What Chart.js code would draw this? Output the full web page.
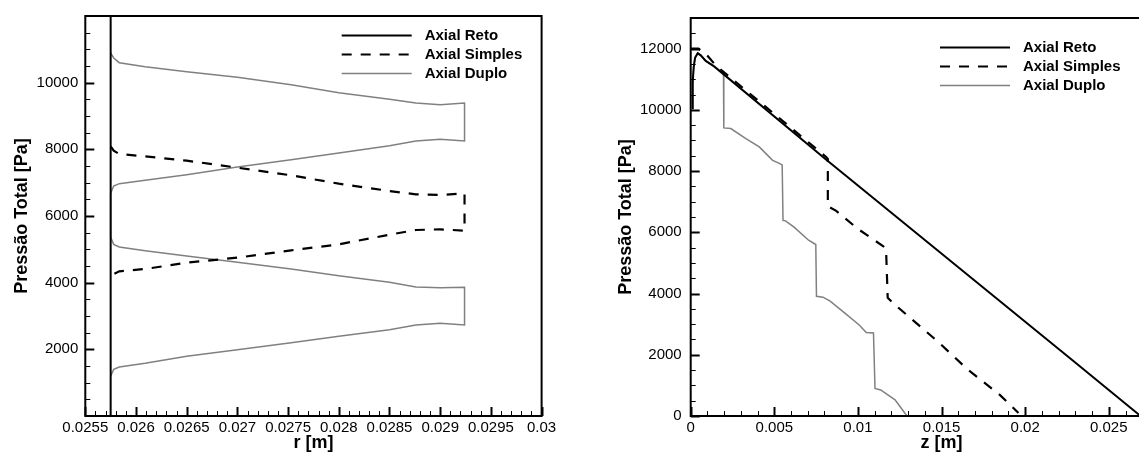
<!DOCTYPE html>
<html>
<head>
<meta charset="utf-8">
<script src="https://cdn.jsdelivr.net/npm/chart.js@4.4.1/dist/chart.umd.min.js"></script>
<style>
  html, body { margin: 0; padding: 0; background: #fff; overflow: hidden; width: 1139px; height: 456px; }
  #esq { position: absolute; left: 0; top: 0; }
  #dir { position: absolute; left: 570px; top: 0; }
</style>
</head>
<body>
<canvas id="esq" width="570" height="456"></canvas>
<canvas id="dir" width="640" height="456"></canvas>
<script>
  const series = ['Axial Reto', 'Axial Simples', 'Axial Duplo'];

  // ---- grafico da esquerda: pressao total x r ----
  const rReto = [0.02575, 0.02575];
  const pRetoR = [0, 12000];

  const rSimples = [0.02575, 0.02578, 0.025835, 0.02609, 0.0265, 0.027, 0.02753, 0.028, 0.0285, 0.02876, 0.029, 0.02924,
                    0.02924, 0.029, 0.02876, 0.0285, 0.028, 0.02753, 0.027, 0.0265, 0.02609, 0.025835, 0.02578, 0.02575];
  const pSimplesR = [8090, 7960, 7860, 7790, 7660, 7450, 7220, 6970, 6750, 6650, 6630, 6680,
                     5560, 5600, 5580, 5440, 5150, 4970, 4750, 4600, 4410, 4340, 4260, 4060];

  const rDuplo = [0.02575, 0.02578, 0.025835, 0.02609, 0.0265, 0.027, 0.02753, 0.028, 0.0285, 0.02876, 0.029, 0.02924,
                  0.02924, 0.029, 0.02876, 0.0285, 0.028, 0.02753, 0.027, 0.0265, 0.02609, 0.025835, 0.02578, 0.02575,
                  0.02575, 0.02578, 0.025835, 0.02609, 0.0265, 0.027, 0.02753, 0.028, 0.0285, 0.02876, 0.029, 0.02924,
                  0.02924, 0.029, 0.02876, 0.0285, 0.028, 0.02753, 0.027, 0.0265, 0.02609, 0.025835, 0.02578, 0.02575];
  const pDuploR = [10890, 10740, 10600, 10480, 10330, 10160, 9940, 9700, 9500, 9390, 9340, 9390,
                   8250, 8300, 8250, 8110, 7890, 7690, 7470, 7240, 7070, 6970, 6900, 6680,
                   5360, 5150, 5070, 4960, 4800, 4610, 4410, 4210, 4010, 3870, 3845, 3865,
                   2730, 2780, 2730, 2590, 2390, 2200, 1990, 1790, 1580, 1470, 1400, 1200];

  const rTicks = [0.0255, 0.026, 0.0265, 0.027, 0.0275, 0.028, 0.0285, 0.029, 0.0295, 0.03];
  const rTickLabels = ['0.0255', '0.026', '0.0265', '0.027', '0.0275', '0.028', '0.0285', '0.029', '0.0295', '0.03'];
  const pTicksEsq = [2000, 4000, 6000, 8000, 10000];
  const pLabelsEsq = ['2000', '4000', '6000', '8000', '10000'];

  // ---- grafico da direita: pressao total x z ----
  const zReto = [0.00008, 0.00012, 0.00018, 0.00026, 0.00042, 0.0006, 0.0009, 0.0014, 0.00809, 0.02292, 0.0269];
  const pRetoZ = [10050, 10900, 11400, 11700, 11850, 11780, 11600, 11420, 8380, 1780, 0];

  const zSimples = [0, 0.00046, 0.00095, 0.0015, 0.0081, 0.0082, 0.0082, 0.0087, 0.01, 0.0115, 0.01168, 0.01178,
                    0.0122, 0.0148, 0.0165, 0.0185, 0.0196];
  const pSimplesZ = [12000, 12000, 11800, 11450, 8460, 8400, 6850, 6700, 6110, 5550, 5470, 3860,
                     3640, 2420, 1550, 680, 100];

  const zDuplo = [0.00008, 0.00012, 0.00018, 0.00026, 0.00042, 0.0006, 0.0009, 0.0014, 0.00196, 0.00198,
                  0.0024, 0.0033, 0.0041, 0.0049, 0.0053, 0.00547, 0.00552, 0.00565, 0.00618, 0.00705, 0.00748,
                  0.00752, 0.00791, 0.00834, 0.0092, 0.01006, 0.0105, 0.01093, 0.01102, 0.01136, 0.01222, 0.01293];
  const pDuploZ = [10050, 10900, 11400, 11700, 11850, 11780, 11600, 11420, 11170, 9410,
                   9390, 9060, 8790, 8350, 8250, 8200, 6390, 6380, 6170, 5740, 5600,
                   3910, 3880, 3750, 3370, 2980, 2730, 2710, 900, 850, 530, 0];

  const zTicks = [0, 0.005, 0.01, 0.015, 0.02, 0.025, 0.03];
  const zTickLabels = ['0', '0.005', '0.01', '0.015', '0.02', '0.025', '0.03'];
  const pTicksDir = [0, 2000, 4000, 6000, 8000, 10000, 12000];
  const pLabelsDir = ['0', '2000', '4000', '6000', '8000', '10000', '12000'];

  const fonte = '"Liberation Sans", Arial, Helvetica, sans-serif';
  const estilos = [
    { borderColor: '#000', borderWidth: 2, borderDash: [] },
    { borderColor: '#000', borderWidth: 2.2, borderDash: [10, 9] },
    { borderColor: '#808080', borderWidth: 1.5, borderDash: [] }
  ];

  function pontos(xs, ys) {
    return xs.map((v, i) => ({ x: v, y: ys[i] }));
  }

  // moldura, marcas para dentro e legenda (estilo tecplot)
  const moldura = {
    id: 'moldura',
    afterDatasetsDraw(chart, args, opts) {
      const { ctx, chartArea: a } = chart;
      const sx = chart.scales.x, sy = chart.scales.y;
      ctx.save();
      ctx.strokeStyle = '#000';

      const marca = (scale, passo, horiz) => {
        const n = Math.round((scale.max - scale.min) / passo);
        const maiores = scale.ticks.map(t => t.value);
        for (let i = 0; i <= n; i++) {
          const v = scale.min + i * passo;
          const maior = maiores.some(m => Math.abs(m - v) < passo / 10);
          const len = maior ? 9 : 5;
          ctx.lineWidth = maior ? 2 : 1;
          const p = Math.round(scale.getPixelForValue(v)) + 0.5;
          ctx.beginPath();
          if (horiz) { ctx.moveTo(p, a.bottom); ctx.lineTo(p, a.bottom - len); }
          else { ctx.moveTo(a.left, p); ctx.lineTo(a.left + len, p); }
          ctx.stroke();
        }
      };
      marca(sx, opts.passoX, true);
      marca(sy, opts.passoY, false);

      ctx.lineWidth = 2;
      ctx.strokeRect(a.left, a.top, a.right - a.left, a.bottom - a.top);

      // legenda
      ctx.font = 'bold 15px ' + fonte;
      ctx.textBaseline = 'middle';
      ctx.textAlign = 'left';
      chart.data.datasets.forEach((ds, i) => {
        const x0 = a.left + opts.legX;
        const y0 = Math.round(a.top + opts.legY + i * 19) + 0.5;
        ctx.strokeStyle = ds.borderColor;
        ctx.lineWidth = ds.borderWidth;
        ctx.setLineDash(ds.borderDash || []);
        ctx.beginPath();
        ctx.moveTo(x0, y0);
        ctx.lineTo(x0 + 70, y0);
        ctx.stroke();
        ctx.setLineDash([]);
        ctx.fillStyle = '#000';
        ctx.fillText(ds.label, x0 + 83, y0);
      });
      ctx.restore();
    }
  };

  function criaGrafico(id, c) {
    return new Chart(document.getElementById(id), {
      type: 'line',
      data: {
        datasets: c.dados.map((d, i) => Object.assign({
          label: series[i],
          data: d,
          pointRadius: 0,
          fill: false,
          tension: 0
        }, estilos[i]))
      },
      options: {
        responsive: false,
        animation: false,
        layout: { padding: { left: 0, top: 12.7, right: c.padDir, bottom: 0 } },
        plugins: {
          legend: { display: false },
          tooltip: { enabled: false },
          moldura: { passoX: c.passoX, passoY: c.passoY, legX: c.legX, legY: c.legY }
        },
        scales: {
          x: {
            type: 'linear',
            min: c.xMin, max: c.xMax,
            afterBuildTicks: s => { s.ticks = c.xTicks.map(v => ({ value: v })); },
            afterFit: s => { s.height = 40; },
            grid: { display: false, drawTicks: false },
            border: { display: false },
            ticks: {
              autoSkip: false, maxRotation: 0, padding: 3, color: '#000',
              font: { family: fonte, size: 15 },
              callback: (v, i) => c.xLabels[i]
            },
            title: {
              display: true, text: c.xTitulo, color: '#000',
              font: { family: fonte, size: 18, weight: 'bold' },
              padding: { top: 0, bottom: 2 }
            }
          },
          y: {
            min: c.yMin, max: c.yMax,
            afterBuildTicks: s => { s.ticks = c.yTicks.map(v => ({ value: v })); },
            afterFit: s => { s.width = c.larguraY; },
            grid: { display: false, drawTicks: false },
            border: { display: false },
            ticks: {
              padding: c.padTickY, color: '#000',
              font: { family: fonte, size: 15 },
              callback: (v, i) => c.yLabels[i]
            },
            title: {
              display: true, text: 'Pressão Total [Pa]', color: '#000',
              font: { family: fonte, size: 18, weight: 'bold' },
              padding: { top: c.padTituloY, bottom: 0 }
            }
          }
        }
      },
      plugins: [moldura]
    });
  }

  criaGrafico('esq', {
    dados: [pontos(rReto, pRetoR), pontos(rSimples, pSimplesR), pontos(rDuplo, pDuploR)],
    xMin: 0.0255, xMax: 0.03, xTicks: rTicks, xLabels: rTickLabels, xTitulo: 'r [m]',
    yMin: 0, yMax: 12000, yTicks: pTicksEsq, yLabels: pLabelsEsq,
    passoX: 0.0001, passoY: 500,
    larguraY: 85.3, padDir: 28.4, padTickY: 7, padTituloY: 11,
    legX: 256.4, legY: 19.3
  });

  criaGrafico('dir', {
    dados: [pontos(zReto, pRetoZ), pontos(zSimples, pSimplesZ), pontos(zDuplo, pDuploZ)],
    xMin: 0, xMax: 0.03, xTicks: zTicks, xLabels: zTickLabels, xTitulo: 'z [m]',
    yMin: 0, yMax: 13000, yTicks: pTicksDir, yLabels: pLabelsDir,
    passoX: 0.001, passoY: 500,
    larguraY: 120.7, padDir: 15, padTickY: 9, padTituloY: 45,
    legX: 249.3, legY: 29
  });
</script>
</body>
</html>
